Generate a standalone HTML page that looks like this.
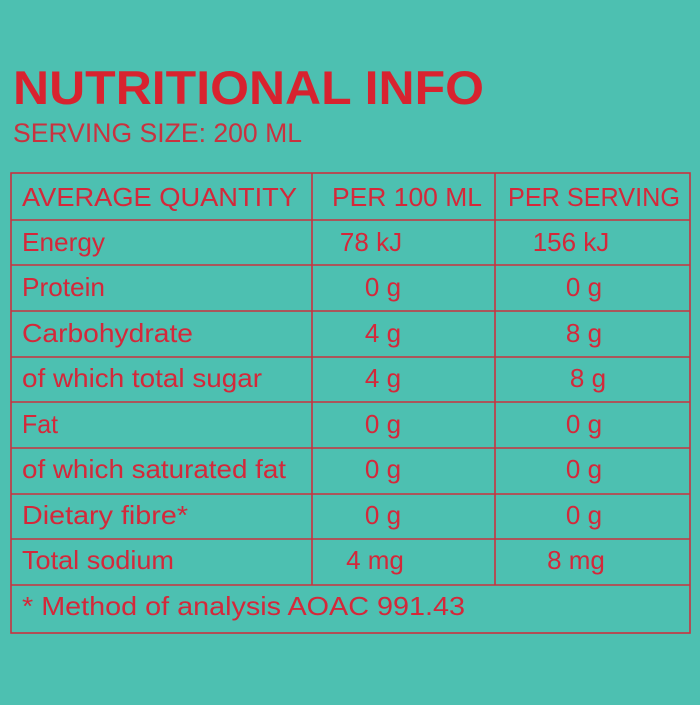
<!DOCTYPE html>
<html><head><style>html,body{margin:0;padding:0;background:#4dc0b1;}</style></head>
<body>
<svg width="700" height="700" xmlns="http://www.w3.org/2000/svg" font-family="Liberation Sans, sans-serif">
<rect width="700" height="700" fill="#4dc0b1"/>
<text x="13" y="104" font-size="47" font-weight="bold" fill="#d8232f" textLength="471" lengthAdjust="spacingAndGlyphs">NUTRITIONAL INFO</text>
<text x="13" y="142" font-size="27" fill="#c9323f" textLength="289" lengthAdjust="spacingAndGlyphs">SERVING SIZE: 200 ML</text>
<g stroke="#c9323f" stroke-width="1.6" fill="none">
<rect x="11" y="173" width="679" height="460"/>
<line x1="11" y1="220" x2="690" y2="220"/>
<line x1="11" y1="265" x2="690" y2="265"/>
<line x1="11" y1="311" x2="690" y2="311"/>
<line x1="11" y1="357" x2="690" y2="357"/>
<line x1="11" y1="402" x2="690" y2="402"/>
<line x1="11" y1="448" x2="690" y2="448"/>
<line x1="11" y1="494" x2="690" y2="494"/>
<line x1="11" y1="539" x2="690" y2="539"/>
<line x1="11" y1="585" x2="690" y2="585"/>
<line x1="312" y1="173" x2="312" y2="585"/>
<line x1="495" y1="173" x2="495" y2="585"/>
</g>
<g fill="#d4283a" font-size="26">
<text x="22" y="206" textLength="275" lengthAdjust="spacingAndGlyphs">AVERAGE QUANTITY</text>
<text x="332" y="206" textLength="150" lengthAdjust="spacingAndGlyphs">PER 100 ML</text>
<text x="508" y="206" textLength="172" lengthAdjust="spacingAndGlyphs">PER SERVING</text>
<text x="22" y="251" textLength="83" lengthAdjust="spacingAndGlyphs">Energy</text>
<text x="22" y="296" textLength="83" lengthAdjust="spacingAndGlyphs">Protein</text>
<text x="22" y="342" textLength="171" lengthAdjust="spacingAndGlyphs">Carbohydrate</text>
<text x="22" y="387" textLength="240" lengthAdjust="spacingAndGlyphs">of which total sugar</text>
<text x="22" y="433" textLength="36" lengthAdjust="spacingAndGlyphs">Fat</text>
<text x="22" y="478" textLength="264" lengthAdjust="spacingAndGlyphs">of which saturated fat</text>
<text x="22" y="524" textLength="166" lengthAdjust="spacingAndGlyphs">Dietary fibre*</text>
<text x="22" y="569" textLength="152" lengthAdjust="spacingAndGlyphs">Total sodium</text>
<text x="22" y="615" textLength="443" lengthAdjust="spacingAndGlyphs">* Method of analysis AOAC 991.43</text>
<g text-anchor="middle">
<text x="371" y="251">78 kJ</text><text x="571" y="251">156 kJ</text>
<text x="383" y="296">0 g</text><text x="584" y="296">0 g</text>
<text x="383" y="342">4 g</text><text x="584" y="342">8 g</text>
<text x="383" y="387">4 g</text><text x="588" y="387">8 g</text>
<text x="383" y="433">0 g</text><text x="584" y="433">0 g</text>
<text x="383" y="478">0 g</text><text x="584" y="478">0 g</text>
<text x="383" y="524">0 g</text><text x="584" y="524">0 g</text>
<text x="375" y="569">4 mg</text><text x="576" y="569">8 mg</text>
</g>
</g>
</svg>
</body></html>
